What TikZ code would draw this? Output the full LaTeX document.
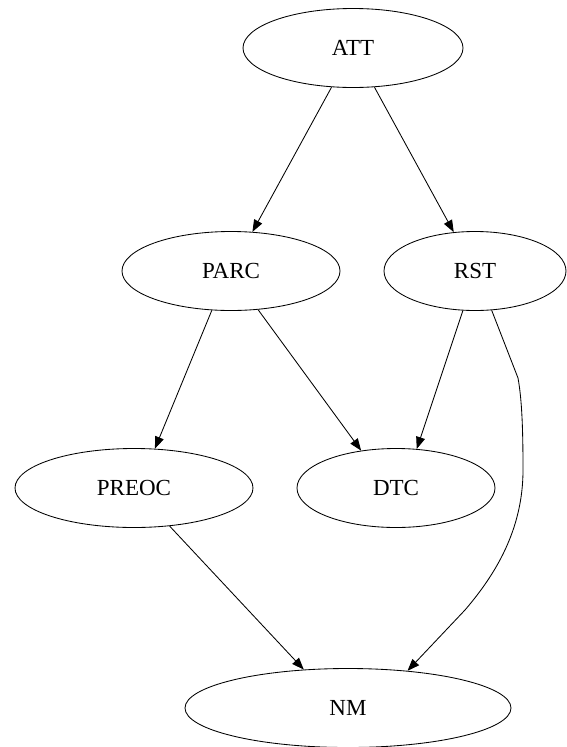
\documentclass[tikz,border=0pt]{standalone}
\usepackage{fontspec}
\setmainfont{Liberation Serif}
\usetikzlibrary{arrows.meta,shapes.geometric}

\begin{document}
\begin{tikzpicture}[->,>={Triangle[length=12pt,width=9pt]},x=1pt,y=-1pt,
      line width=0.85pt]
    \tikzstyle{var}=[ellipse,draw,minimum width=220pt,minimum height=79pt,
      inner sep=0pt,font=\fontsize{23}{27}\selectfont]

    \useasboundingbox (0,0) rectangle (566,747);

    \node[var]                     (ATT)   at (353,48)  {ATT};
    \node[var,minimum width=218pt] (PARC)  at (231,271) {PARC};
    \node[var,minimum width=182pt] (RST)   at (475,271) {RST};
    \node[var,minimum width=238pt] (PREOC) at (134,488) {PREOC};
    \node[var,minimum width=198pt] (DTC)   at (396,488) {DTC};
    \node[var,minimum width=326pt] (NM)    at (348,708) {NM};

    \path (ATT) edge (PARC)
    (ATT) edge (RST)
    (PARC.-116) edge (PREOC.62)
    (PARC.-55) edge (DTC.133)
    (RST.-107) edge (DTC.62)
    (PREOC) edge (NM.139);
    \draw (RST.-67) -- (518,378) .. controls (522,400) and (523,430) .. (523,470)
    .. controls (523,530) and (495,575) .. (465,610) -- (NM.32);
\end{tikzpicture}
\end{document}
